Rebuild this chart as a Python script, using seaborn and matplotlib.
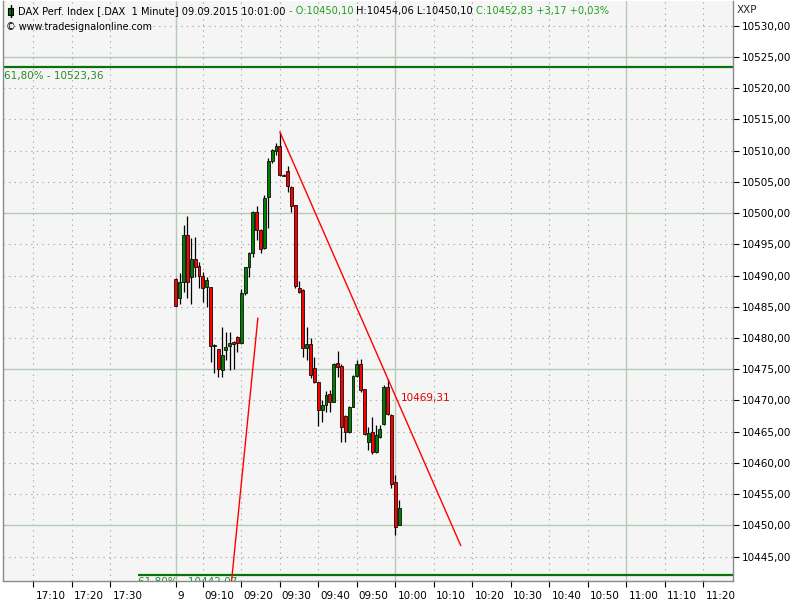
import matplotlib
matplotlib.use("Agg")
import matplotlib.pyplot as plt
import matplotlib.transforms as mtrans
from matplotlib.patches import Rectangle
import seaborn as sns
import numpy as np
import pandas as pd

# ---------------- data ----------------
times = ["09:03", "09:04", "09:05", "09:06", "09:07", "09:08", "09:09", "09:10",
         "09:11", "09:12", "09:13", "09:14", "09:15", "09:16", "09:17", "09:18",
         "09:19", "09:20", "09:21", "09:22", "09:23", "09:24", "09:25", "09:26",
         "09:27", "09:28", "09:29", "09:30", "09:31", "09:32", "09:33", "09:34",
         "09:35", "09:36", "09:37", "09:38", "09:39", "09:40", "09:41", "09:42",
         "09:43", "09:44", "09:45", "09:46", "09:47", "09:48", "09:49", "09:50",
         "09:51", "09:52", "09:53", "09:54", "09:55", "09:56", "09:57", "09:58",
         "09:59", "10:00", "10:01"]
opens = [10489.5, 10486.4, 10488.9, 10496.5, 10489.7, 10492.6, 10491.6, 10489.9,
         10488.1, 10488.1, 10478.8, 10478.2, 10474.8, 10478.0, 10478.7, 10479.4,
         10480.2, 10479.2, 10487.2, 10491.4, 10493.6, 10500.2, 10497.3, 10494.4,
         10502.5, 10508.3, 10510.0, 10510.7, 10506.1, 10506.7, 10504.2, 10501.3,
         10488.0, 10487.7, 10478.4, 10479.0, 10475.2, 10472.9, 10468.4, 10469.3,
         10471.1, 10469.8, 10476.0, 10475.5, 10467.5, 10465.0, 10469.0, 10473.9,
         10475.9, 10471.8, 10463.4, 10464.9, 10461.7, 10464.2, 10466.2, 10472.1,
         10467.7, 10456.9, 10450.10]
highs = [10489.6, 10490.4, 10498.1, 10499.5, 10496.0, 10496.1, 10492.2, 10490.6,
         10489.8, 10488.2, 10479.0, 10478.2, 10481.7, 10481.0, 10480.9, 10479.5,
         10480.3, 10487.9, 10491.4, 10493.7, 10500.3, 10501.1, 10497.4, 10502.9,
         10508.8, 10510.2, 10511.2, 10513.0, 10506.2, 10507.5, 10504.3, 10501.3,
         10489.2, 10487.8, 10481.8, 10480.0, 10477.0, 10473.0, 10470.1, 10471.5,
         10471.7, 10476.0, 10477.9, 10475.9, 10467.6, 10469.1, 10474.0, 10476.4,
         10476.6, 10471.9, 10465.7, 10467.3, 10466.1, 10466.1, 10472.5, 10473.4,
         10467.8, 10458.1, 10454.06]
lows = [10485.1, 10485.5, 10487.3, 10486.4, 10485.4, 10489.8, 10488.0, 10485.7,
        10484.9, 10476.1, 10474.4, 10473.7, 10473.8, 10476.5, 10474.9, 10475.0,
        10477.7, 10479.0, 10486.9, 10489.8, 10493.0, 10495.7, 10493.6, 10494.2,
        10497.6, 10508.0, 10509.3, 10506.0, 10505.9, 10503.4, 10500.1, 10488.0,
        10487.2, 10477.0, 10476.5, 10473.6, 10472.8, 10465.9, 10466.5, 10468.2,
        10468.2, 10469.7, 10473.7, 10463.4, 10463.4, 10464.8, 10468.9, 10473.8,
        10471.4, 10464.5, 10462.1, 10461.4, 10461.6, 10464.0, 10466.1, 10467.7,
        10456.0, 10448.5, 10450.10]
closes = [10485.2, 10488.9, 10496.5, 10488.9, 10492.6, 10491.3, 10490.0, 10488.0,
          10489.3, 10478.8, 10478.9, 10475.0, 10477.3, 10478.6, 10479.2, 10479.0,
          10479.2, 10487.2, 10491.3, 10493.6, 10500.2, 10497.3, 10494.3, 10502.4,
          10508.3, 10510.1, 10510.7, 10506.1, 10506.0, 10504.3, 10501.2, 10488.4,
          10487.3, 10478.4, 10479.0, 10474.0, 10472.9, 10468.5, 10469.3, 10470.9,
          10469.7, 10475.8, 10475.3, 10465.7, 10464.9, 10469.0, 10473.9, 10475.9,
          10471.7, 10464.6, 10464.8, 10461.8, 10464.5, 10465.4, 10472.2, 10467.8,
          10456.6, 10449.7, 10452.83]

# trend lines (time in minutes after 09:00, price)
trend1_t = [30, 77]
trend1_p = [10513.00, 10446.76]
trend2_t = [17.3, 24.3]
trend2_p = [10440.1, 10483.2]

fib_upper = 10523.36
fib_lower = 10442.07
fib_upper_label = "61,80% - 10523,36"
fib_lower_label = "61,80% - 10442,07"
trend_label = "10469,31"

xtick_labels = ["17:10", "17:20", "17:30", "9", "09:10", "09:20", "09:30", "09:40",
                "09:50", "10:00", "10:10", "10:20", "10:30", "10:40", "10:50",
                "11:00", "11:10", "11:20"]
xtick_pos = [-34, -24, -14, 3, 10, 20, 30, 40, 50, 60, 70, 80, 90, 100, 110,
             120, 130, 140]
ytick_vals = [10445, 10450, 10455, 10460, 10465, 10470, 10475, 10480, 10485,
              10490, 10495, 10500, 10505, 10510, 10515, 10520, 10525, 10530]

title_segments = [
    ("DAX Perf. Index [.DAX  1 Minute] 09.09.2015 10:01:00 ", "black"),
    ("- O:10450,10 ", "#1ea01e"),
    ("H:10454,06 L:10450,10 ", "black"),
    ("C:10452,83 +3,17 +0,03%", "#1ea01e"),
]

# ---------------- build frame ----------------
def to_min(t):
    h, m = t.split(":")
    return (int(h) - 9) * 60 + int(m)

df = pd.DataFrame({"time": times, "open": opens, "high": highs,
                   "low": lows, "close": closes})
df["x"] = df["time"].map(to_min)
df["bottom"] = df[["open", "close"]].min(axis=1)
df["height"] = (df["close"] - df["open"]).abs().clip(lower=0.08)
df["color"] = np.where(df["close"] >= df["open"], "#008000", "#ff0000")

# ---------------- figure ----------------
sns.set_theme(style="white")
plt.rcParams["font.family"] = ["DejaVu Sans"]
FS = 7.5
TFS = 7.1

fig = plt.figure(figsize=(8, 6), dpi=100)
fig.patch.set_facecolor("white")
ax = fig.add_axes([3 / 800, 19 / 600, 730 / 800, 580 / 600])
ax.set_facecolor("#f5f5f5")

xmin, xmax = -41.9, 147.7
ymin, ymax = 10441.1, 10533.95
ax.set_xlim(xmin, xmax)
ax.set_ylim(ymin, ymax)

# grid
solid_c = "#b6cbb6"
dot_c = "#a8a8a8"
for xp in xtick_pos:
    if xp in (3, 60, 120):
        ax.axvline(xp, color=solid_c, lw=1.0, zorder=0)
    else:
        ax.axvline(xp, color=dot_c, lw=0.8, ls=(0, (1.2, 3.8)), zorder=0)
for yv in ytick_vals:
    if yv % 25 == 0:
        ax.axhline(yv, color=solid_c, lw=1.0, zorder=0)
    else:
        ax.axhline(yv, color=dot_c, lw=0.8, ls=(0, (1.2, 3.8)), zorder=0)

# fib lines
ax.hlines(fib_upper, xmin, xmax, color="#0a720a", lw=1.6, zorder=1)
ax.hlines(fib_lower, -6.8, xmax, color="#0a720a", lw=1.6, zorder=1)
ax.text(xmin + 0.3, fib_upper - 0.55, fib_upper_label, color="#2a8a2a",
        fontsize=FS, ha="left", va="top", zorder=5)
ax.text(-6.8, fib_lower - 0.4, fib_lower_label, color="#2a8a2a",
        fontsize=FS, ha="left", va="top", clip_on=True, zorder=5)

# candles
ax.vlines(df["x"], df["low"], df["high"], color="black", lw=0.9, zorder=2)
ax.bar(df["x"], df["height"], bottom=df["bottom"], width=0.76,
       color=df["color"], edgecolor="black", linewidth=0.55, zorder=3)

# trend lines
sns.lineplot(x=trend1_t, y=trend1_p, color="red", lw=1.0, ax=ax,
             sort=False, legend=False, zorder=4)
sns.lineplot(x=trend2_t, y=trend2_p, color="red", lw=1.0, ax=ax,
             sort=False, legend=False, zorder=4)
ax.text(61.3, 10470.4, trend_label, color="#e00000", fontsize=FS,
        ha="left", va="center", zorder=5)

# axes styling
ax.yaxis.tick_right()
ax.set_yticks(ytick_vals)
ax.set_yticklabels([f"{v:,.2f}".replace(",", "X").replace(".", ",").replace("X", "")
                    for v in ytick_vals])
ax.set_xticks(xtick_pos)
ax.set_xticklabels(xtick_labels)
ax.tick_params(axis="y", which="both", right=True, left=False, length=4,
               width=0.8, color="black", pad=2.5, labelsize=FS, labelcolor="black")
ax.tick_params(axis="x", which="both", bottom=True, length=4, width=0.8,
               color="black", pad=3, labelsize=FS, labelcolor="black")
offset = mtrans.ScaledTranslation(2 / 100, 0, fig.dpi_scale_trans)
for lab in ax.get_xticklabels():
    lab.set_horizontalalignment("left")
    lab.set_transform(lab.get_transform() + offset)
ax.set_xlabel("")
ax.set_ylabel("")
for side in ("left", "bottom", "right"):
    ax.spines[side].set_color("#8a8a8a")
    ax.spines[side].set_linewidth(1.0)
ax.spines["top"].set_visible(False)

# header
fig.text(737 / 800, 1 - 10 / 600, "XXP", fontsize=FS, ha="left", va="center")
icon_ax = fig.add_axes([7 / 800, 1 - 18 / 600, 7 / 800, 13 / 600])
icon_ax.axis("off")
icon_ax.set_xlim(0, 1)
icon_ax.set_ylim(0, 1)
icon_ax.plot([0.5, 0.5], [0.0, 1.0], color="black", lw=1)
icon_ax.add_patch(Rectangle((0.15, 0.25), 0.7, 0.5, facecolor="#008000",
                            edgecolor="black", lw=0.8))

t = fig.text(18 / 800, 1 - 11 / 600, title_segments[0][0], color=title_segments[0][1],
             fontsize=TFS, ha="left", va="center")
for seg, col in title_segments[1:]:
    t = ax.annotate(seg, xy=(1, 0.5), xycoords=t, va="center", ha="left",
                    color=col, fontsize=TFS, annotation_clip=False)
fig.text(6 / 800, 1 - 27 / 600, "\u00a9 www.tradesignalonline.com", fontsize=6.9,
         ha="left", va="center", color="black")

fig.savefig("out.png", dpi=100, facecolor="white")
